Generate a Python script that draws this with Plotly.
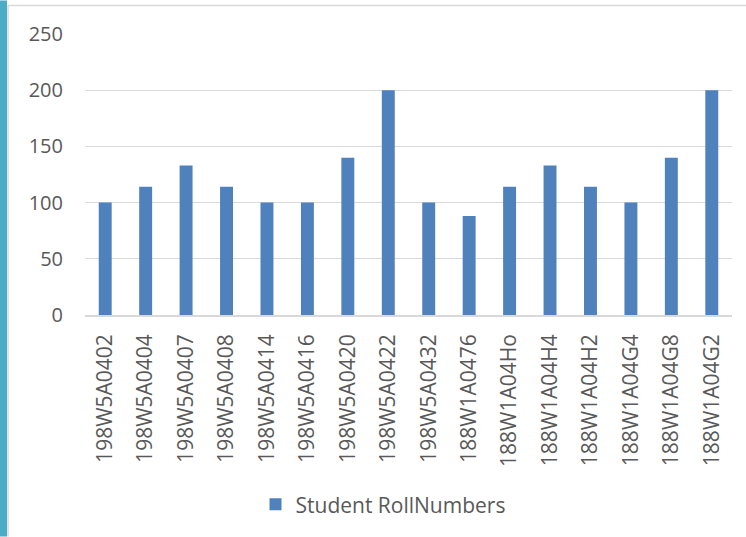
import plotly.graph_objects as go

categories = ["198W5A0402", "198W5A0404", "198W5A0407", "198W5A0408", "198W5A0414",
              "198W5A0416", "198W5A0420", "198W5A0422", "198W5A0432", "188W1A0476",
              "188W1A04Ho", "188W1A04H4", "188W1A04H2", "188W1A04G4", "188W1A04G8",
              "188W1A04G2"]
values = [100, 114, 133, 114, 100, 100, 140, 200, 100, 88, 114, 133, 114, 100, 140, 200]
series_name = "Student RollNumbers"
y_ticks = [0, 50, 100, 150, 200, 250]

W, H = 746, 537
L, R, T, B = 85, 732, 33.5, 315
pw, ph = R - L, B - T

def px(x):
    return (x - L) / pw

def py(y):
    return (B - y) / ph

FONT = "Open Sans"
GRAY = "#595959"

fig = go.Figure()
fig.add_trace(go.Bar(x=categories, y=values, name=series_name,
                     marker=dict(color="#4F81BD", line=dict(width=0)),
                     showlegend=True))

fig.update_layout(
    width=W, height=H,
    margin=dict(l=L, r=W - R, t=T, b=H - B, pad=0),
    paper_bgcolor="white", plot_bgcolor="white",
    bargap=0.68,
    font=dict(family=FONT, size=20, color=GRAY),
    showlegend=True,
    legend=dict(orientation="h", x=px(383), xanchor="center", y=py(505), yanchor="middle",
                font=dict(family=FONT, size=21, color=GRAY), itemwidth=30),
    xaxis=dict(type="category", tickangle=-90, showgrid=False, showline=True,
               linecolor="#D9D9D9", linewidth=1.5, ticks="", ticklabelstandoff=9,
               tickfont=dict(family=FONT, size=21, color=GRAY)),
    yaxis=dict(range=[0, 250], tickvals=y_ticks, showgrid=True, gridcolor="#D9D9D9",
               gridwidth=1, zeroline=False, showline=False, ticks="",
               ticklabelstandoff=21, tickfont=dict(family=FONT, size=20, color=GRAY)),
    shapes=[
        dict(type="rect", xref="paper", yref="paper", x0=px(0), x1=px(7), y0=py(537), y1=py(0),
             fillcolor="#4BACC6", line=dict(width=0), layer="above"),
        dict(type="line", xref="paper", yref="paper", x0=px(8), x1=px(8), y0=py(537), y1=py(5),
             line=dict(color="#D9D9D9", width=1.5)),
        dict(type="line", xref="paper", yref="paper", x0=px(8), x1=px(746), y0=py(5), y1=py(5),
             line=dict(color="#D9D9D9", width=1.5)),
    ],
)

fig.write_html("out.html")
